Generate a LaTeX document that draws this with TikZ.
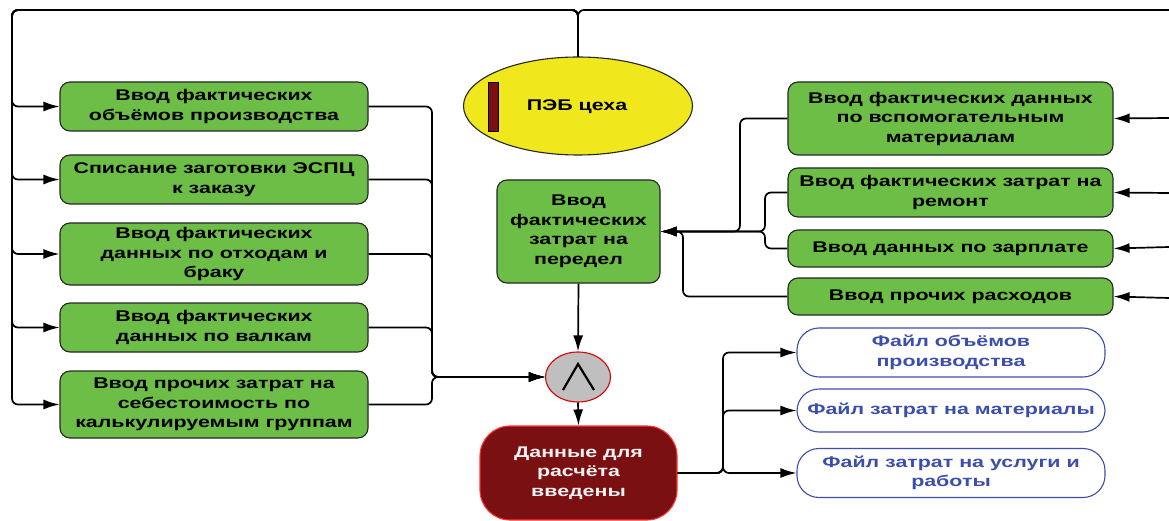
\documentclass[tikz,border=0pt]{standalone}
\usepackage{fontspec}
\setmainfont{Liberation Sans}
\newfontfamily\boxfont{Liberation Sans}[FakeStretch=1.38]
\usetikzlibrary{arrows.meta,shapes.geometric}
\definecolor{boxgreen}{RGB}{108,190,70}
\definecolor{pebyellow}{RGB}{240,232,28}
\definecolor{darkred}{RGB}{122,16,18}
\definecolor{filblue}{RGB}{60,78,172}
\tikzset{
  txt/.style={font=\boxfont\bfseries\fontsize{15.5}{19.5}\selectfont, align=center, inner sep=0pt},
  greenbox/.style={txt, draw=black!85, line width=1.1pt, fill=boxgreen, rounded corners=10pt},
  filebox/.style={txt, draw=filblue, line width=1.1pt, fill=white, text=filblue, rounded corners=22pt},
  conn/.style={draw=black, line width=1.7pt, rounded corners=6pt},
  arr/.style={conn, -{Latex[length=16pt,width=10pt]}},
}
\begin{document}
\begin{tikzpicture}[x=1pt,y=-1pt]
\useasboundingbox[fill=white] (0,0) rectangle (1169,521);

% input boxes on the left
\node[greenbox, minimum width=308pt, minimum height=49pt] (l1) at (214,106.5) {Ввод фактических\\объёмов производства};
\node[greenbox, minimum width=308pt, minimum height=49pt] (l2) at (214,179.5) {Списание заготовки ЭСПЦ\\к заказу};
\node[greenbox, minimum width=308pt, minimum height=62pt] (l3) at (214,254) {Ввод фактических\\данных по отходам и\\браку};
\node[greenbox, minimum width=308pt, minimum height=49pt] (l4) at (214,327.5) {Ввод фактических\\данных по валкам};
\node[greenbox, minimum width=308pt, minimum height=67pt] (l5) at (214,404.5) {Ввод прочих затрат на\\себестоимость по\\калькулируемым группам};

% planning department
\node[ellipse, draw=black!85, line width=1.1pt, fill=pebyellow, minimum width=229pt, minimum height=98pt, inner sep=0pt] (peb) at (578,106) {};
\node[txt] (pebt) at (577,107) {ПЭБ цеха};
\node[draw=black, line width=0.8pt, fill=darkred, minimum width=10pt, minimum height=49pt, inner sep=0pt] (pebbar) at (493,106.5) {};

% processing cost
\node[greenbox, minimum width=163pt, minimum height=103pt] (per) at (578.5,231.5) {Ввод\\фактических\\затрат на\\передел};

% input boxes on the right
\node[greenbox, minimum width=325pt, minimum height=73pt] (ra) at (950.5,118.5) {Ввод фактических данных\\по вспомогательным\\материалам};
\node[greenbox, minimum width=325pt, minimum height=49pt] (rb) at (950.5,192.5) {Ввод фактических затрат на\\ремонт};
\node[greenbox, minimum width=325pt, minimum height=37pt] (rc) at (950.5,248.5) {Ввод данных по зарплате};
\node[greenbox, minimum width=325pt, minimum height=37pt] (rd) at (950.5,296.5) {Ввод прочих расходов};

% AND junction
\node[ellipse, draw=red!85!black, line width=1.1pt, fill=black!25, minimum width=65pt, minimum height=50pt, inner sep=0pt] (and) at (578,377) {};
\draw[line width=2.2pt] (563,390) -- (578,364) -- (594,390);

% result
\node[txt, draw=red!80, line width=1.1pt, fill=darkred, text=white!94!black, rounded corners=30pt, minimum width=197pt, minimum height=94pt] (data) at (578.5,473) {Данные для\\расчёта\\введены};

% output files
\node[filebox, minimum width=308pt, minimum height=49pt] (f1) at (951,352.5) {Файл объёмов\\производства};
\node[filebox, minimum width=308pt, minimum height=43pt] (f2) at (951,410.5) {Файл затрат на материалы};
\node[filebox, minimum width=308pt, minimum height=49pt] (f3) at (951,473) {Файл затрат на услуги и\\работы};

% bus points
\coordinate (tl) at (12,10);
\coordinate (tr) at (1169,10);
\coordinate (lbus) at (432,377);
\coordinate (obus) at (723,0);
\coordinate (ea) at (1169,118);
\coordinate (eb) at (1169,193);
\coordinate (ec) at (1169,247);
\coordinate (ed) at (1169,298);

% feedback from the planning department
\draw[conn] (peb.north) |- (tr);
\foreach \b in {l1,l2,l3,l4,l5}
  \draw[arr] (peb.north) |- (tl) |- (\b.west);

% left inputs into the junction
\foreach \b in {l1,l2,l3,l4,l5}
  \draw[arr] (\b.east) -| (lbus) -- (and.west);

% right inputs into the processing cost
\draw[arr] (ra.west) -| (740,231.5) -- (per.east);
\draw[arr] (rb.west) -| (765,231.5) -- (per.east);
\draw[arr] (rc.west) -| (765,231.5) -- (per.east);
\draw[arr] (rd.west) -| (683,231.5) -- (per.east);

% incoming arrows from the right edge
\draw[arr] (ea) -- (ra.east);
\draw[arr] (eb) -- (rb.east);
\draw[arr] (ec) -- (rc.east);
\draw[arr] (ed) -- (rd.east);

% main flow
\draw[arr] (per.south) -- (and.north);
\draw[arr] (and.south) -- (data.north);

% outputs
\foreach \f in {f1,f2,f3}
  \draw[arr] (data.east) -| (obus |- \f.west) -- (\f.west);
\end{tikzpicture}
\end{document}
